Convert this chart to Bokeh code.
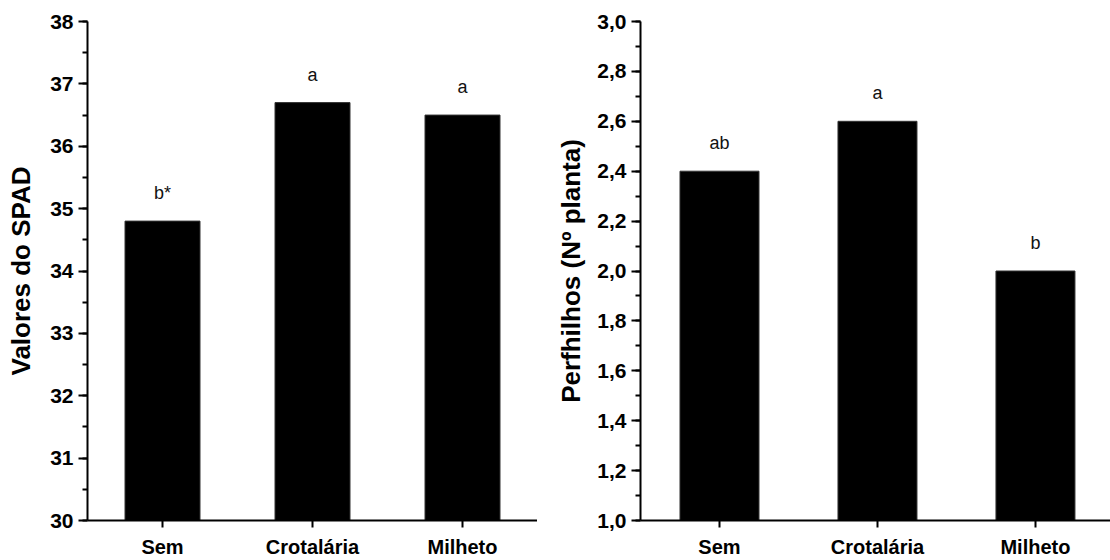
from bokeh.plotting import figure
from bokeh.layouts import row
from bokeh.models import (ColumnDataSource, FixedTicker, SingleIntervalTicker,
                          CustomJSTickFormatter, Range1d)
from bokeh.core.properties import value
from bokeh.embed import file_html
from bokeh.resources import INLINE

# Tratamentos (cobertura antecedente)
tratamentos = ["Sem", "Crotalária", "Milheto"]

# Índice SPAD por tratamento e letras do teste de médias
spad = [34.8, 36.7, 36.5]
spad_letras = ["b*", "a", "a"]

# Número de perfilhos por planta e letras do teste de médias
perfilhos = [2.4, 2.6, 2.0]
perfilhos_letras = ["ab", "a", "b"]

FONT = "Liberation Sans"


def painel(valores, letras, ylabel, y0, y1, intervalo, x_end, width,
           left, right, top, bottom, casas, title_gap):
    pos = list(range(1, len(tratamentos) + 1))
    src = ColumnDataSource(dict(x=pos, top=valores, rotulo=letras))
    p = figure(width=width, height=560,
               x_range=Range1d(0.5, x_end), y_range=Range1d(y0, y1),
               output_backend="svg", toolbar_location=None,
               min_border_left=left, min_border_right=right,
               min_border_top=top, min_border_bottom=bottom)
    p.vbar(x="x", top="top", bottom=y0, width=0.5, source=src,
           fill_color="black", line_color="#333333", line_width=1)
    p.text(x="x", y="top", text="rotulo", source=src,
           text_align="center", text_baseline="alphabetic", y_offset=-28,
           text_font=value(FONT), text_font_size="18px", text_color="#111111")

    p.outline_line_color = None
    p.xgrid.visible = False
    p.ygrid.visible = False
    p.background_fill_color = "white"
    p.border_fill_color = "white"

    # eixo x: categorias
    xa = p.xaxis[0]
    xa.ticker = FixedTicker(ticks=pos)
    xa.major_label_overrides = {i: t for i, t in zip(pos, tratamentos)}
    xa.minor_tick_line_color = None
    xa.major_tick_out = 7
    xa.major_tick_in = 0
    xa.major_tick_line_width = 2
    xa.axis_line_width = 2
    xa.major_label_standoff = 8
    xa.major_label_text_font = FONT
    xa.major_label_text_font_style = "bold"
    xa.major_label_text_font_size = "20px"
    xa.major_label_text_color = "black"

    # eixo y
    ya = p.yaxis[0]
    ya.ticker = SingleIntervalTicker(interval=intervalo, num_minor_ticks=2)
    ya.formatter = CustomJSTickFormatter(
        code=f"return tick.toFixed({casas}).replace('.', ',');")
    ya.major_tick_out = 9
    ya.major_tick_in = 0
    ya.minor_tick_out = 5
    ya.minor_tick_in = 0
    ya.major_tick_line_width = 2
    ya.minor_tick_line_width = 2
    ya.axis_line_width = 2
    ya.major_label_standoff = 5
    ya.major_label_text_font = FONT
    ya.major_label_text_font_style = "bold"
    ya.major_label_text_font_size = "21px"
    ya.major_label_text_color = "black"
    ya.axis_label = ylabel
    ya.axis_label_text_font = FONT
    ya.axis_label_text_font_style = "bold"
    ya.axis_label_text_font_size = "26px"
    ya.axis_label_text_color = "black"
    ya.axis_label_standoff = title_gap
    return p


# painel esquerdo: quadro de 87 a 537 px; painel direito: eixo em 640 px
p1 = painel(spad, spad_letras, "Valores do SPAD", 30, 38, 1, 3.5, 537,
            87, 0, 21, 38, 0, 11)
p2 = painel(perfilhos, perfilhos_letras, "Perfhilhos (Nº planta)", 1.0, 3.0,
            0.2, 3.475, 573, 103, 0, 21, 38, 1, 8)

layout = row(p1, p2)
open("out.html", "w").write(file_html(layout, INLINE))
